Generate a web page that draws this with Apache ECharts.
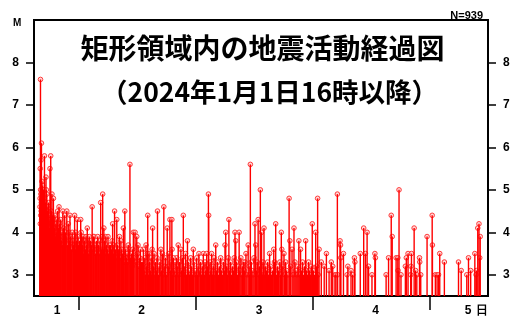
<!DOCTYPE html>
<html><head><meta charset="utf-8">
<script src="https://cdn.jsdelivr.net/npm/echarts@6/dist/echarts.min.js"></script>
<style>html,body{margin:0;padding:0;background:#fff}#c{width:525px;height:325px}</style>
</head><body><div id="c"></div>
<script>
// time: hours since 2024-01-01 00:00 (JST), value: magnitude M
const jan1Events = [
 [16.00,4.6],[16.05,5.5],[16.10,7.6],[16.20,5.7],[16.30,6.1],[16.40,5.2],[16.55,5.1],[16.70,5.0],[16.92,5.8],[17.23,5.3],[17.30,5.0],[17.40,4.9],
 [18.05,5.5],[18.20,5.8],[18.45,4.9],[18.75,4.8],[19.60,4.5],[19.90,4.6],[20.70,4.5],[21.07,4.4],[21.50,4.5],[21.80,4.2],[22.15,4.4],[23.10,4.4],[23.65,4.3],
 [16.02,4.8],[16.06,4.2],[16.12,5.0],[16.15,4.4],[16.18,4.9],[16.24,4.5],[16.27,4.7],[16.35,4.3],[16.38,4.8],[16.45,4.6],[16.50,4.9],[16.60,4.4],
 [16.65,4.7],[16.75,4.5],[16.80,4.8],[16.85,4.2],[16.97,4.6],[17.05,4.4],[17.15,4.7],[17.35,4.3],[17.45,4.6],[17.55,4.5],[17.65,4.2],[17.75,4.7],
 [17.85,4.4],[17.95,4.1],[18.10,4.3],[18.30,4.5],[18.38,4.2],[18.55,4.4],[18.65,4.0],[18.85,4.3],[18.95,4.1],[19.05,4.4],[19.15,3.9],[19.25,4.2],
 [19.35,4.0],[19.45,4.3],[19.75,4.1],[19.80,3.8],[20.00,4.2],[20.10,3.9],[20.25,4.3],[20.35,3.8],[20.50,4.0],[20.60,3.7],[20.85,4.1],[20.95,3.8],
 [21.20,4.0],[21.35,3.9],[21.65,3.7],[21.95,4.0],[22.05,3.8],[22.30,3.9],[22.45,3.6],[22.60,4.0],[22.75,3.8],[22.90,3.7],[23.00,3.9],[23.25,3.6],
 [23.35,4.0],[23.50,3.8],[23.80,3.9],[23.90,3.7]
];
const jan2Events = [
 [24.35,4.3],[24.55,3.9],[25.00,3.9],[25.70,4.1],[26.70,4.6],[27.10,3.9],[28.45,4.7],[28.86,4.9],[29.10,4.1],[29.50,3.9],[30.50,3.7],[30.90,4.2],
 [31.30,4.5],[31.75,4.3],[32.30,3.9],[32.60,3.8],[33.10,4.1],[33.40,4.5],[34.10,3.7],[34.45,5.6],[35.15,4.0],[35.50,4.0],[35.85,3.9],[36.10,3.7],
 [37.20,3.6],[37.75,3.7],[38.10,4.4],[38.35,3.5],[39.00,3.6],[39.10,4.1],[40.10,4.5],[40.80,3.6],[41.40,4.6],[42.10,4.1],[42.65,4.3],[43.05,4.3],
 [43.10,3.6],[44.00,3.4],[44.35,3.7],[44.90,3.6],[45.40,4.4],[46.25,3.8],[47.45,3.6],
 [24.10,3.8],[24.25,3.6],[24.45,4.0],[24.70,3.7],[24.80,3.9],[24.90,3.5],[25.15,3.8],[25.30,3.6],[25.45,3.9],[25.55,3.7],[25.85,3.8],[26.00,3.5],
 [26.10,3.9],[26.25,3.6],[26.40,3.8],[26.55,3.7],[26.85,3.6],[26.95,3.9],[27.25,3.7],[27.40,3.5],[27.55,3.8],[27.70,3.6],[27.85,3.9],[28.00,3.7],
 [28.15,3.5],[28.30,3.8],[28.60,3.6],[28.75,3.9],[29.00,3.6],[29.25,3.8],[29.35,3.5],[29.65,3.7],[29.80,3.6],[29.95,3.9],[30.10,3.5],[30.25,3.7],
 [30.40,3.4],[30.65,3.6],[30.80,3.8],[31.05,3.5],[31.15,3.7],[31.45,3.6],[31.60,3.4],[31.90,3.7],[32.05,3.5],[32.15,3.6],[32.45,3.4],[32.75,3.6],
 [32.90,3.5],[33.25,3.3],[33.55,3.6],[33.70,3.4],[33.85,3.5],[34.00,3.3],[34.30,3.6],[34.60,3.4],[34.75,3.5],[34.90,3.2],[35.00,3.6],[35.30,3.4],
 [35.70,3.3],[36.00,3.5],[36.30,3.2],[36.45,3.4],[36.60,3.6],[36.80,3.3],[36.95,3.1],
 [37.05,3.3],[37.35,3.1],[37.50,3.4],[37.60,3.0],[37.90,3.2],[38.00,3.5],[38.25,3.0],[38.50,3.3],[38.65,3.1],[38.80,3.4],[38.90,3.0],[39.25,3.2],
 [39.40,3.5],[39.55,3.0],[39.70,3.3],[39.85,3.1],[40.00,3.4],[40.30,3.0],[40.45,3.2],[40.60,3.3],[40.95,3.1],[41.10,3.5],[41.25,3.0],[41.60,3.2],
 [41.75,3.4],[41.90,3.0],[42.30,3.2],[42.45,3.5],[42.80,3.1],[42.90,3.3],[43.20,3.0],[43.35,3.4],[43.50,3.1],[43.70,3.3],[43.85,3.0],[44.15,3.2],
 [44.50,3.0],[44.65,3.3],[45.05,3.1],[45.20,3.4],[45.55,3.0],[45.70,3.2],[45.85,3.5],[46.05,3.0],[46.40,3.3],[46.55,3.1],[46.70,3.0],[46.90,3.4],
 [47.10,3.2],[47.25,3.0],[47.60,3.3],[47.80,3.1],[47.95,3.0]
];
const jan3Events = [
 [48.15,3.4],[48.60,3.5],[49.50,3.5],[50.20,3.5],[50.55,4.9],[50.60,4.4],[51.20,3.5],[52.05,3.7],[53.05,3.4],[53.95,3.7],[54.10,4.0],[54.75,4.3],
 [55.85,3.4],[56.00,4.0],[56.15,3.8],[56.85,4.0],[57.70,3.3],[58.25,3.5],[58.70,3.7],[59.15,5.6],[60.10,4.2],[60.25,3.7],[60.75,4.3],[61.20,5.0],
 [61.45,4.0],[61.95,4.1],[61.90,3.2],[63.10,3.5],[63.95,3.6],[64.35,4.2],[65.50,4.0],[65.60,3.6],[66.05,3.5],[67.10,4.8],[67.25,3.8],[67.70,3.6],
 [68.10,4.1],[69.10,3.8],[69.45,3.6],[70.50,3.8],[70.70,3.1],[71.85,4.2],[71.90,3.1],
 [48.30,3.0],[48.45,3.2],[48.80,3.1],[48.95,3.3],[49.10,3.0],[49.30,3.2],[49.70,3.0],[49.85,3.3],[50.00,3.1],[50.35,3.2],[50.75,3.0],[50.90,3.3],
 [51.05,3.1],[51.40,3.0],[51.55,3.2],[51.70,3.4],[51.85,3.0],[52.20,3.1],[52.40,3.3],[52.60,3.0],[52.80,3.2],[53.20,3.1],[53.40,3.0],[53.60,3.3],
 [53.80,3.1],[54.30,3.2],[54.45,3.0],[54.60,3.4],[54.90,3.1],[55.10,3.3],[55.30,3.0],[55.50,3.2],[55.70,3.1],[56.30,3.3],[56.50,3.0],[56.70,3.2],
 [57.00,3.1],[57.20,3.4],[57.40,3.0],[57.55,3.2],[57.90,3.1],[58.05,3.3],[58.45,3.0],[58.90,3.2],[59.00,3.0],[59.35,3.3],[59.50,3.1],[59.70,3.0],
 [59.90,3.4],[60.40,3.1],[60.55,3.3],[60.90,3.0],[61.05,3.2],[61.60,3.0],[61.75,3.3],[62.10,3.0],[62.30,3.2],[62.50,3.1],[62.70,3.3],[62.90,3.0],
 [63.30,3.2],[63.50,3.0],[63.70,3.1],[64.10,3.3],[64.55,3.0],[64.75,3.2],[64.95,3.1],[65.20,3.3],[65.35,3.0],[65.80,3.2],[66.20,3.0],[66.40,3.3],
 [66.60,3.1],[66.85,3.0],[67.40,3.2],[67.90,3.0],[68.30,3.3],[68.50,3.1],[68.70,3.0],[68.90,3.2],[69.30,3.0],[69.65,3.1],[69.85,3.3],[70.05,3.0],
 [70.30,3.2],[70.90,3.0],[71.10,3.3],[71.30,3.1],[71.50,3.0],[71.65,3.2]
];
const jan4Events = [
 [72.55,4.0],[72.95,4.8],[73.25,3.6],[74.75,3.5],[75.75,3.3],[76.05,3.2],[76.50,3.0],[76.70,3.0],[77.00,4.9],[77.05,3.0],[77.55,3.8],[77.65,3.7],
 [77.70,3.4],[78.25,3.5],[79.00,3.0],[79.15,3.2],[79.80,3.1],[80.15,3.0],[80.50,3.4],[80.60,3.3],[81.70,3.5],[82.40,4.1],[82.75,3.5],[83.10,4.0],
 [83.40,3.2],[84.10,3.0],[84.70,3.5],[84.80,3.4],[87.00,3.0],[87.50,3.4],[88.05,4.4],[88.25,3.9],[89.05,3.4],[89.40,3.4],[89.45,3.1],[89.65,5.0],
 [90.05,3.0],[90.95,3.2],[91.15,3.4],[91.50,3.5],[92.05,3.0],[92.10,3.2],[92.20,3.5],[92.75,4.1],[93.05,3.1],[93.30,3.0],[93.85,3.4],[93.90,3.3],
 [94.10,3.0],[95.40,3.9],
 [72.10,3.1],[72.30,3.0],[72.75,3.2],[73.05,3.0],[73.70,3.3],[74.30,3.2],[75.30,3.1]
];
const jan5Events = [
 [96.45,4.4],[96.50,3.7],[97.10,3.0],[97.45,3.0],[97.75,3.0],[98.00,3.5],[98.95,3.3],[101.85,3.3],[102.40,3.1],[103.55,3.0],[103.90,3.4],[104.35,3.1],
 [105.20,3.5],[105.45,3.0],[105.50,3.1],[105.80,4.1],[106.05,4.2],[106.20,3.4],[106.30,3.9]
];
const magTicks = [3,4,5,6,7,8];
const dayTicks = [24,48,72,96];
const dayLabelValues = [19.5,36.86,60.92,84.84,103.8,106.7];
const dayLabelTexts = ['1','2','3','4','5','日'];
const titleLine1 = '矩形領域内の地震活動経過図';
const titleLine2 = '（2024年1月1日16時以降）';
const countText = 'N=939';

const yMin = 2.5, yMax = 9, xMin = 14.77, xMax = 107.9;
const allEvents = [].concat(jan1Events, jan2Events, jan3Events, jan4Events, jan5Events);

const chart = echarts.init(document.getElementById('c'), null, {renderer:'canvas'});
const labelFont = {color:'#000', fontFamily:'Liberation Sans, Arial, sans-serif', fontWeight:'bold', fontSize:12};
const yAxisCommon = {
  type:'value', min:yMin, max:yMax,
  axisLine:{show:true, lineStyle:{color:'#000', width:2}},
  axisTick:{show:true, inside:false, length:8, lineStyle:{color:'#000', width:1.5}, customValues:magTicks},
  axisLabel:Object.assign({show:true, customValues:magTicks, margin:15}, labelFont),
  splitLine:{show:false}
};
chart.setOption({
  animation:false,
  backgroundColor:'#fff',
  title:[
    {text:titleLine1, left:'center', top:29, textStyle:{fontFamily:'Noto Sans CJK JP', fontWeight:'bold', fontSize:28, color:'#000'}},
    {text:titleLine2, left:96, top:74, textStyle:{fontFamily:'Noto Sans CJK JP', fontWeight:'bold', fontSize:26.5, color:'#000'}},
    {text:countText, right:37, top:5, textStyle:{fontFamily:'Liberation Sans, Arial, sans-serif', fontWeight:'bold', fontSize:11, color:'#000'}},
    {text:'M', left:8, top:13, textStyle:{fontFamily:'Liberation Sans, Arial, sans-serif', fontWeight:'bold', fontSize:10, color:'#000'}}
  ],
  grid:{left:34, right:37, top:20, bottom:29, show:true, borderColor:'#000', borderWidth:2, backgroundColor:'transparent'},
  xAxis:{
    type:'value', min:xMin, max:xMax,
    axisLine:{show:true, lineStyle:{color:'#000', width:2}},
    axisTick:{show:true, length:14, lineStyle:{color:'#000', width:1.5}, customValues:dayTicks},
    axisLabel:Object.assign({show:true, customValues:dayLabelValues, margin:9,
      formatter:function(v){ for (let i=0;i<dayLabelValues.length;i++){ if (Math.abs(dayLabelValues[i]-v)<0.01) return dayLabelTexts[i]; } return ''; }}, labelFont),
    splitLine:{show:false}
  },
  yAxis:[
    Object.assign({position:'left'}, yAxisCommon),
    Object.assign({position:'right'}, yAxisCommon)
  ],
  series:[{
    type:'custom',
    data:allEvents,
    encode:{x:0, y:1},
    z:2,
    renderItem:function(params, api){
      const top = api.coord([api.value(0), api.value(1)]);
      return {type:'circle', shape:{cx:top[0], cy:top[1], r:2.3}, style:{fill:'rgba(255,190,190,0.6)', stroke:'#ff3a3a', lineWidth:1}};
    }
  },{
    type:'custom',
    data:allEvents,
    encode:{x:0, y:1},
    z:3,
    renderItem:function(params, api){
      const t = api.value(0), m = api.value(1);
      const top = api.coord([t, m]);
      const base = api.coord([t, yMin]);
      return {type:'line', shape:{x1:top[0], y1:base[1], x2:top[0], y2:top[1]}, style:{stroke:'#ff0000', lineWidth:1.4}};
    }
  }]
});
</script>
</body></html>
